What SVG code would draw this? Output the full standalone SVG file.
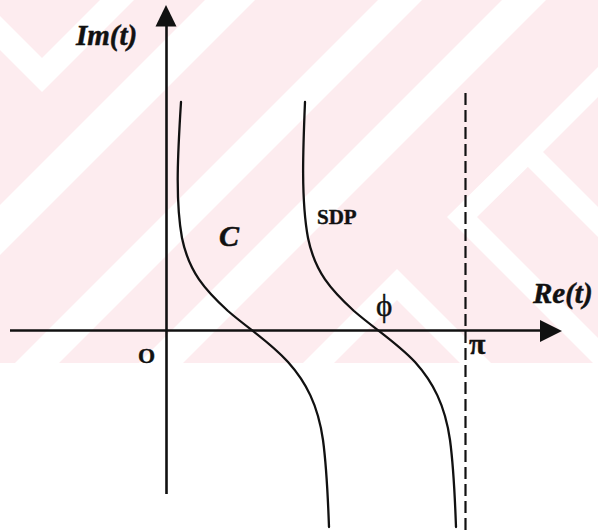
<svg xmlns="http://www.w3.org/2000/svg" width="598" height="531" viewBox="0 0 598 531">
  <style>
    .wm { fill: #ffffff; }
    .ln { fill: none; stroke: #111111; stroke-width: 2.3; stroke-linecap: round; }
    .ax { fill: none; stroke: #111111; stroke-width: 2.6; }
    .dash { fill: none; stroke: #111111; stroke-width: 2.2; stroke-dasharray: 12 5; }
    .head { fill: #111111; }
    .bi { font-family: "Liberation Serif", "Times New Roman", serif; font-weight: bold; font-style: italic; fill: #111111; stroke: #111111; stroke-width: 0.5; }
    .b { font-family: "Liberation Serif", "Times New Roman", serif; font-weight: bold; fill: #111111; stroke: #111111; stroke-width: 0.4; }
    .r { font-family: "Liberation Serif", "DejaVu Serif", serif; fill: #111111; stroke: #111111; stroke-width: 0.4; }
  </style>
  <rect x="0" y="0" width="598" height="531" fill="#ffffff"/>
  <g id="watermark">
    <rect x="0" y="0" width="598" height="363" fill="#fdecef"/>
    <polygon class="wm" points="0,16 42,58 100,0 134,0 42,92 0,50"/>
    <polygon class="wm" points="0,205 205,0 255,0 0,255"/>
    <polygon class="wm" points="15,363 378,0 422,0 59,363"/>
    <polygon class="wm" points="139,363 502,0 546,0 183,363"/>
    <polygon class="wm" points="303,363 397,269 491,363 460,363 397,300 334,363"/>
    <polygon class="wm" points="598,67 513,152 598,237 598,207 543,152 598,97"/>
    <polygon class="wm" points="447,217 513,152 543,152 477,217 598,338 598,363 593,363"/>
  </g>
  <g id="connectors">
    <g id="axis-im">
      <line class="ax" x1="166.5" y1="22" x2="166.5" y2="494"/>
      <polygon class="head" points="166,5 155.5,26.5 176.5,26.5"/>
    </g>
    <g id="axis-re">
      <line class="ax" x1="10" y1="330.5" x2="545" y2="330.5"/>
      <polygon class="head" points="562,331 540,320 540,342"/>
    </g>
    <path id="curve-c" class="ln" d="M181,102 C178,150 175,200 182,238 C189,272 205,290 228,311 C250,330 270,342 288,362 C306,382 318,405 323,440 C327,470 328,500 329,527"/>
    <path id="curve-sdp" class="ln" d="M305,102 C303,150 301,200 308,238 C315,272 331,290 354,311 C376,330 396,342 415,362 C433,382 445,405 450,440 C454,470 455,500 456,527"/>
    <line id="asymptote-pi" class="dash" x1="465.5" y1="93" x2="465.5" y2="531"/>
  </g>
  <g id="label-im"><text class="bi" x="76" y="45" font-size="29">Im(t)</text></g>
  <g id="label-re"><text class="bi" x="533" y="303" font-size="29">Re(t)</text></g>
  <g id="label-c"><text class="bi" x="219" y="246" font-size="30">C</text></g>
  <g id="label-sdp"><text class="b" x="317" y="224" font-size="21">SDP</text></g>
  <g id="label-o"><text class="b" x="138" y="363" font-size="22">O</text></g>
  <g id="label-pi"><text class="b" x="469" y="354" font-size="30">π</text></g>
  <g id="label-phi"><text class="r" x="376" y="316" font-size="31">ϕ</text></g>
</svg>
